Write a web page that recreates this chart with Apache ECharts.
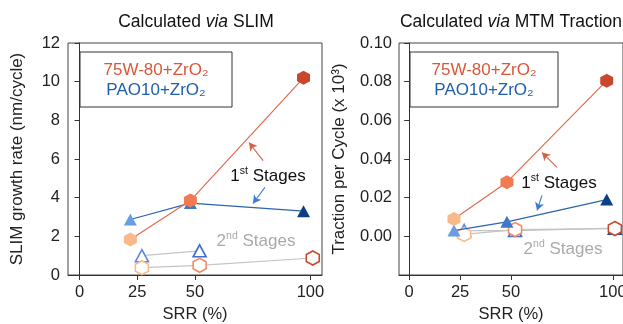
<!DOCTYPE html>
<html><head><meta charset="utf-8">
<script src="https://cdn.jsdelivr.net/npm/echarts@6/dist/echarts.min.js"></script>
<style>html,body{margin:0;padding:0;background:#fff}#c{width:623px;height:324px}</style>
</head><body><div id="c"></div><script>
// ---- data ----
const xFirst = [22, 48, 97];
const xSecond = [27, 52, 101];
const slim75First = [1.84, 3.85, 10.2];
const slimPaoFirst = [2.87, 3.72, 3.3];
const slim75Second = [0.38, 0.5, 0.88];
const slimPaoSecond = [1.0, 1.25];
const mtm75First = [0.009, 0.028, 0.0805];
const mtmPaoFirst = [0.003, 0.0075, 0.019];
const mtm75Second = [0.001, 0.0035, 0.004];
const mtmPaoSecond = [0.003, 0.003, 0.0042];
const xTicks = [0, 25, 50, 100];
const mtmTicks = [0, 0.02, 0.04, 0.06, 0.08, 0.10];
// per-point marker colours (25 / 50 / 100 % SRR)
const fill75 = ['#f9b98a', '#f07a52', '#c9482c'];
const fillPao = ['#6b9de6', '#3d78c9', '#0c3f85'];
const edge75 = ['#f9b98a', '#f08a62', '#c9482c'];
const edgePao = ['#5a8ae0', '#3d6ed0', '#1d4e9a'];
// annotation arrows (data space) [tail, head]
const slimArrowRed = [[79.5, 5.92], [73.4, 6.85]];
const slimArrowBlue = [[80.3, 4.53], [75.1, 3.70]];
const mtmArrowRed = [[72.6, 0.0357], [65.2, 0.0434]];
const mtmArrowBlue = [[65.2, 0.0212], [62.8, 0.0134]];

const F = '"Liberation Sans", Arial, Helvetica, sans-serif';
const HEX = 'path://M0,-1 L0.866,-0.5 L0.866,0.5 L0,1 L-0.866,0.5 L-0.866,-0.5 Z';
const RED_LINE = '#e26a4e', BLUE_LINE = '#2c64ae', GRAY_LINE = '#c4c4c4';
const FS = 16.5;

function pts(xs, ys, colors, open) {
  return ys.map((y, i) => ({
    value: [xs[i], y],
    itemStyle: open ? { color: '#fff', borderColor: colors[i], borderWidth: 1.6 }
                    : { color: colors[i], borderWidth: 0 }
  }));
}
function arrow(a, color) {
  return {
    silent: true, symbol: ['none', 'arrow'], symbolSize: [7, 8],
    label: { show: false },
    lineStyle: { color: color, width: 1.1, type: 'solid' },
    emphasis: { disabled: true },
    data: [[{ coord: a[0] }, { coord: a[1] }]]
  };
}
function xAx(g) {
  return {
    type: 'value', gridIndex: g, min: -5, max: 105,
    name: 'SRR (%)', nameLocation: 'middle', nameGap: 30,
    nameTextStyle: { fontSize: 16.5, color: '#222', fontFamily: F },
    axisLine: { show: true, onZero: false, lineStyle: { color: '#333' } },
    axisTick: { show: true, length: 5, customValues: xTicks, lineStyle: { color: '#333' } },
    axisLabel: { customValues: xTicks, fontSize: FS, color: '#222', margin: 9, fontFamily: F },
    splitLine: { show: false }
  };
}
function series(g, xs, ys, colors, open, sym, size, lineColor, mark) {
  const s = {
    type: 'line', xAxisIndex: g, yAxisIndex: g,
    data: pts(xs, ys, colors, open),
    symbol: sym, symbolSize: size, showSymbol: true,
    lineStyle: { color: lineColor, width: 1.2 },
    emphasis: { disabled: true }, z: open ? 2 : 3
  };
  if (mark) s.markLine = mark;
  return s;
}

const chart = echarts.init(document.getElementById('c'), null, { renderer: 'canvas' });
const superTxt = (x, y, a, b, color) => ({
  type: 'text', x: x, y: y, z: 100,
  style: {
    text: '{b|' + a + '}{s|' + b + '}{b| Stages}', align: 'center', verticalAlign: 'middle',
    rich: {
      b: { fontSize: 17, fill: color, fontFamily: F, lineHeight: 20 },
      s: { fontSize: 10.5, fill: color, fontFamily: F, lineHeight: 12, verticalAlign: 'top' }
    }
  }
});
const titleTxt = (x, rest) => ({
  type: 'text', x: x, y: 22, z: 100,
  style: {
    text: '{n|Calculated }{i|via}{n| ' + rest + '}', align: 'center', verticalAlign: 'middle',
    rich: {
      n: { fontSize: 17.5, fill: '#111', fontFamily: F },
      i: { fontSize: 17.5, fill: '#111', fontFamily: F, fontStyle: 'italic' }
    }
  }
});
const legendBox = (x, w) => ([
  { type: 'rect', z: 90, shape: { x: x, y: 52, width: w, height: 55 },
    style: { fill: '#fff', stroke: '#333', lineWidth: 1 } },
  { type: 'text', z: 100, x: x + w / 2, y: 70,
    style: { text: '75W-80+ZrO₂', align: 'center', verticalAlign: 'middle', fontSize: 17, fontFamily: F, fill: '#d9583a' } },
  { type: 'text', z: 100, x: x + w / 2, y: 90,
    style: { text: 'PAO10+ZrO₂', align: 'center', verticalAlign: 'middle', fontSize: 17, fontFamily: F, fill: '#1f5fa8' } }
]);

chart.setOption({
  animation: false,
  backgroundColor: '#fff',
  grid: [
    { left: 68, top: 43, width: 254, height: 232, show: true, borderColor: '#444', borderWidth: 1,
      containLabel: false, outerBoundsMode: 'none' },
    { left: 399, top: 43, width: 224, height: 232, show: true, borderColor: '#444', borderWidth: 1,
      containLabel: false, outerBoundsMode: 'none' }
  ],
  xAxis: [xAx(0), xAx(1)],
  yAxis: [
    { type: 'value', gridIndex: 0, min: 0, max: 12, interval: 2,
      name: 'SLIM growth rate (nm/cycle)', nameLocation: 'middle', nameGap: 42,
      nameTextStyle: { fontSize: 17, color: '#222', fontFamily: F },
      axisLine: { show: true, lineStyle: { color: '#333' } },
      axisTick: { show: true, length: 5, lineStyle: { color: '#333' } },
      axisLabel: { fontSize: FS, color: '#222', margin: 8, fontFamily: F },
      splitLine: { show: false } },
    { type: 'value', gridIndex: 1, min: -0.02, max: 0.10, interval: 0.02,
      name: 'Traction per Cycle (x 10³)', nameLocation: 'middle', nameGap: 51,
      nameTextStyle: { fontSize: 17, color: '#222', fontFamily: F },
      axisLine: { show: true, lineStyle: { color: '#333' } },
      axisTick: { show: true, length: 5, customValues: mtmTicks, lineStyle: { color: '#333' } },
      axisLabel: { customValues: mtmTicks, fontSize: FS, color: '#222', margin: 7, fontFamily: F,
        formatter: v => (v < -0.001 ? '' : v.toFixed(2)) },
      splitLine: { show: false } }
  ],
  series: [
    series(0, xSecond, slimPaoSecond, edgePao, true, 'triangle', [13, 12], GRAY_LINE),
    series(0, xSecond, slim75Second, edge75, true, HEX, [13, 14], GRAY_LINE),
    series(0, xFirst, slimPaoFirst, fillPao, false, 'triangle', [13, 12], BLUE_LINE, arrow(slimArrowBlue, '#3a7bd5')),
    series(0, xFirst, slim75First, fill75, false, HEX, [13, 14], RED_LINE, arrow(slimArrowRed, '#d2634a')),
    series(1, xSecond, mtmPaoSecond, edgePao, true, 'triangle', [13, 12], GRAY_LINE),
    series(1, xSecond, mtm75Second, edge75, true, HEX, [13, 14], GRAY_LINE),
    series(1, xFirst, mtmPaoFirst, fillPao, false, 'triangle', [13, 12], BLUE_LINE, arrow(mtmArrowBlue, '#3a7bd5')),
    series(1, xFirst, mtm75First, fill75, false, HEX, [13, 14], RED_LINE, arrow(mtmArrowRed, '#d2634a'))
  ],
  graphic: [
    titleTxt(196, 'SLIM'),
    titleTxt(511, 'MTM Traction'),
    ...legendBox(80, 152),
    ...legendBox(410, 148),
    superTxt(268, 176, '1', 'st', '#111'),
    superTxt(559, 183, '1', 'st', '#111'),
    superTxt(256, 241, '2', 'nd', '#aaaaaa'),
    superTxt(563, 249, '2', 'nd', '#aaaaaa')
  ]
});
</script></body></html>
